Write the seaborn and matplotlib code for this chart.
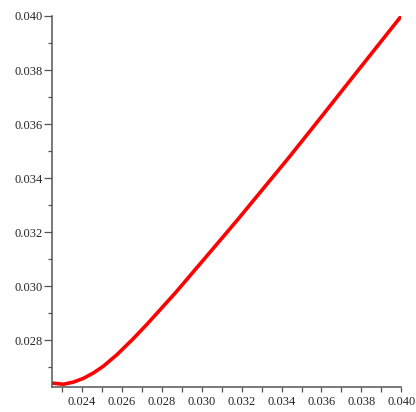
import matplotlib
matplotlib.use("Agg")
import matplotlib.pyplot as plt
import seaborn as sns
import pandas as pd
from matplotlib.ticker import MultipleLocator, FormatStrFormatter

# curve points
x_vals = [0.02256, 0.02306, 0.02356, 0.02407, 0.02457, 0.02507, 0.02574,
          0.02657, 0.02724, 0.02866, 0.02992, 0.03075, 0.03184, 0.03434,
          0.03593, 0.03743, 0.03902, 0.04000]
y_vals = [0.02641, 0.02637, 0.02645, 0.02659, 0.02679, 0.02704, 0.02746,
          0.02806, 0.02858, 0.02974, 0.03083, 0.03155, 0.03250, 0.03474,
          0.03621, 0.03761, 0.03909, 0.04000]

df = pd.DataFrame({"x": x_vals, "y": y_vals})

sns.set_style("ticks")
plt.rcParams["font.family"] = ["Liberation Serif", "DejaVu Serif"]

fig = plt.figure(figsize=(4.16, 4.12), dpi=100)
ax = fig.add_axes([0.1243, 0.0607, 0.8404, 0.9005])

sns.lineplot(data=df, x="x", y="y", color="#ff0000", linewidth=2.6,
             estimator=None, sort=False, ax=ax)

ax.set_xlim(0.02248, 0.0400)
ax.set_ylim(0.02627, 0.0400)

ax.xaxis.set_major_locator(MultipleLocator(0.002))
ax.xaxis.set_minor_locator(MultipleLocator(0.001))
ax.yaxis.set_major_locator(MultipleLocator(0.002))
ax.yaxis.set_minor_locator(MultipleLocator(0.001))
ax.xaxis.set_major_formatter(FormatStrFormatter("%.3f"))
ax.yaxis.set_major_formatter(FormatStrFormatter("%.3f"))

ax.set_xlabel("")
ax.set_ylabel("")

for side in ["top", "right"]:
    ax.spines[side].set_visible(False)
for side in ["left", "bottom"]:
    ax.spines[side].set_color("#555555")
    ax.spines[side].set_linewidth(1.1)

ax.tick_params(axis="x", which="major", length=3.5, width=0.9, color="#555555",
               labelsize=9, pad=3)
ax.tick_params(axis="x", which="minor", length=3.5, width=0.9, color="#555555")
ax.tick_params(axis="y", which="major", length=5.5, width=0.9, color="#555555",
               labelsize=9, pad=1)
ax.tick_params(axis="y", which="minor", length=3.0, width=0.9, color="#555555")

fig.savefig("out.png", dpi=100)
